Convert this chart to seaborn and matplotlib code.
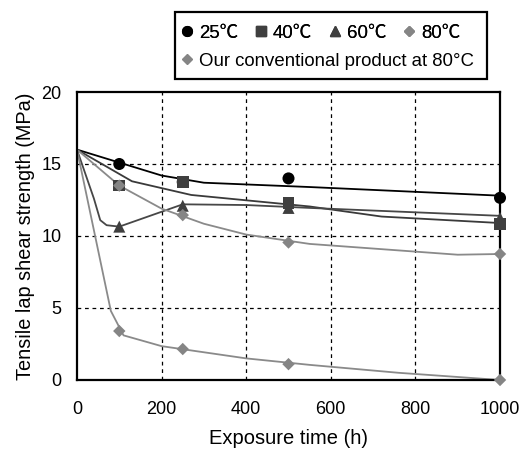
import numpy as np
import pandas as pd
import matplotlib
matplotlib.use("Agg")
import matplotlib.pyplot as plt
import seaborn as sns
from matplotlib.lines import Line2D
from matplotlib.patches import Rectangle

sns.set_style("white")
plt.rcParams['font.family'] = ['Liberation Sans', 'Noto Sans CJK JP', 'DejaVu Sans']
plt.rcParams['text.color'] = 'black'
plt.rcParams['axes.labelcolor'] = 'black'
plt.rcParams['xtick.color'] = 'black'
plt.rcParams['ytick.color'] = 'black'

series = ["25℃", "40℃", "60℃", "80℃", "Our conventional product at 80°C"]

# measured points
pt_x = [100, 250, 500, 1000]
pt_25 = [15.0, 13.75, 14.0, 12.65]
pt_40 = [13.5, 13.75, 12.3, 10.85]
pt_60 = [10.65, 12.1, 11.95, 11.25]
pt_80 = [13.5, 11.45, 9.55, 8.75]
pt_conv = [3.4, 2.15, 1.1, 0.0]

# trend lines
tr_25_x = [0, 100, 200, 300, 550, 1000]
tr_25_y = [16.0, 15.1, 14.2, 13.7, 13.4, 12.8]
tr_40_x = [0, 130, 270, 550, 720, 1000]
tr_40_y = [16.0, 13.8, 12.85, 12.05, 11.35, 10.9]
tr_60_x = [0, 40, 55, 70, 100, 250, 400, 550, 1000]
tr_60_y = [16.0, 12.6, 11.1, 10.75, 10.65, 12.2, 12.15, 11.95, 11.4]
tr_80_x = [0, 100, 200, 300, 400, 550, 900, 1000]
tr_80_y = [16.0, 13.5, 11.9, 10.85, 10.1, 9.45, 8.7, 8.75]
tr_conv_x = [0, 60, 80, 110, 200, 400, 550, 760, 1000]
tr_conv_y = [16.0, 7.6, 4.8, 3.1, 2.35, 1.5, 1.05, 0.5, 0.0]

line_colors = ["#000000", "#3a3a3a", "#474747", "#8a8a8a", "#8a8a8a"]
mk_colors = ["#000000", "#3f3f3f", "#3f3f3f", "#858585", "#858585"]
markers = ["o", "s", "^", "D", "D"]
msizes = [75, 70, 75, 40, 40]

pts = [pt_25, pt_40, pt_60, pt_80, pt_conv]
trs = [(tr_25_x, tr_25_y), (tr_40_x, tr_40_y), (tr_60_x, tr_60_y),
       (tr_80_x, tr_80_y), (tr_conv_x, tr_conv_y)]

fig = plt.figure(figsize=(5.28, 4.49), dpi=100)
ax = fig.add_axes([0.1458, 0.1537, 0.8012, 0.6414])

for i, name in enumerate(series):
    tdf = pd.DataFrame({"x": trs[i][0], "y": trs[i][1]})
    sns.lineplot(data=tdf, x="x", y="y", ax=ax, color=line_colors[i],
                 linewidth=1.3, sort=False, estimator=None, zorder=2)
for i, name in enumerate(series):
    pdf = pd.DataFrame({"x": pt_x, "y": pts[i]})
    sns.scatterplot(data=pdf, x="x", y="y", ax=ax, color=mk_colors[i],
                    marker=markers[i], s=msizes[i], edgecolor="none",
                    zorder=3, clip_on=False)

ax.set_xlim(0, 1000)
ax.set_ylim(0, 20)
ax.set_xticks([0, 200, 400, 600, 800, 1000])
ax.set_yticks([0, 5, 10, 15, 20])
ax.tick_params(axis="both", labelsize=13, length=0, colors="black")
ax.tick_params(axis="x", pad=15)
ax.tick_params(axis="y", pad=11)
for s in ax.spines.values():
    s.set_color("black")
    s.set_linewidth(1.6)
for xv in [200, 400, 600, 800]:
    ax.axvline(xv, color="black", linestyle=(0, (3, 3)), linewidth=0.9, zorder=1)
for yv in [5, 10, 15]:
    ax.axhline(yv, color="black", linestyle=(0, (3, 3)), linewidth=0.9, zorder=1)
ax.set_xlabel("Exposure time (h)", fontsize=14.5, labelpad=8, color="black")
ax.set_ylabel("Tensile lap shear strength (MPa)", fontsize=14.3, labelpad=5,
              color="black")

# legend
handles = [Line2D([], [], linestyle="none", marker=markers[i], color=mk_colors[i],
                  markersize=(7 if i < 3 else 5.5)) for i in range(5)]
leg1 = fig.legend(handles[:4], series[:4], ncol=4, loc="center left",
                  bbox_to_anchor=(0.344, 0.926), frameon=False, fontsize=13.4,
                  handlelength=0.6, handletextpad=0.35, columnspacing=0.9,
                  borderpad=0, borderaxespad=0)
leg2 = fig.legend(handles[4:], series[4:], loc="center left",
                  bbox_to_anchor=(0.344, 0.864), frameon=False, fontsize=13.4,
                  handlelength=0.6, handletextpad=0.35,
                  borderpad=0, borderaxespad=0)
fig.add_artist(leg1)
fig.add_artist(Rectangle((175 / 528, 1 - 79 / 449), 312 / 528, 67 / 449,
                         transform=fig.transFigure, fill=False,
                         edgecolor="black", linewidth=1.6))

fig.savefig("out.png", dpi=100)
